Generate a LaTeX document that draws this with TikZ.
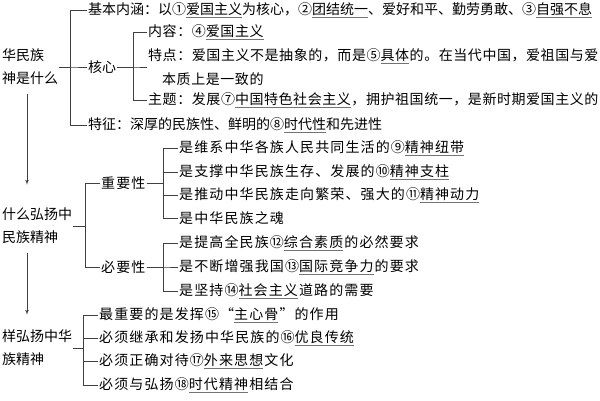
\documentclass[tikz,border=0pt]{standalone}
\usepackage{fontspec}
\newfontfamily\cjk{Noto Sans CJK SC}
\newfontfamily\cjkwide[LetterSpace=8]{Noto Sans CJK SC}
\newfontfamily\cjkmid[LetterSpace=4]{Noto Sans CJK SC}
\usetikzlibrary{arrows, positioning}
\newcommand{\ans}[1]{\rlap{\color{black!55}\underline{\phantom{#1}}}#1}

\begin{document}
\begin{tikzpicture}[x=1pt, y=-1pt,
            % Styles
            item/.style={anchor=west, inner sep=1pt, font=\cjk\fontsize{14pt}{23pt}\selectfont},
            mid/.style={item, font=\cjkmid\fontsize{14pt}{24pt}\selectfont},
            wide/.style={item, font=\cjkwide\fontsize{14pt}{23pt}\selectfont},
            root/.style={item, align=left},
            lnk/.style={draw=black!75, line width=0.7pt},
            flow/.style={draw=black!75, line width=0.7pt, -latex'}
        ]
        \useasboundingbox (0,0) rectangle (600,400);

        % Junction columns
        \coordinate (j1) at (70,0);
        \coordinate (j2) at (133,0);
        \coordinate (j3) at (85,0);
        \coordinate (j4) at (163,0);
        \coordinate (j5) at (83,0);
        \coordinate (ax) at (27,0);

        % What it is
        \node [root] (what) at (1,67) {华民族\\神是什么};
        \node [item] (basic) at (87,10) {基本内涵：以①\ans{爱国主义}为核心，②\ans{团结统一}、爱好和平、勤劳勇敢、③\ans{自强不息}};
        \node [item] (core) at (87,67) {核心};
        \node [item] (feat) at (87,125) {特征：深厚的民族性、鲜明的⑧\ans{时代性}和先进性};
        \node [mid] (cont) at (147,32) {内容：④\ans{爱国主义}};
        \node [mid, align=left] (trait) at (147,67) {特点：爱国主义不是抽象的，而是⑤\ans{具体}的。在当代中国，爱祖国与爱\\\hspace{1em}本质上是一致的};
        \node [mid] (theme) at (147,100) {主题：发展⑦\ans{中国特色社会主义}，拥护祖国统一，是新时期爱国主义的};

        % Why to carry it forward
        \node [root] (why) at (1,226) {什么弘扬中\\民族精神};
        \node [wide] (imp) at (100,183) {重要性};
        \node [wide] (nec) at (100,267) {必要性};
        \node [wide] (i1) at (178,148) {是维系中华各族人民共同生活的⑨\ans{精神纽带}};
        \node [wide] (i2) at (178,172) {是支撑中华民族生存、发展的⑩\ans{精神支柱}};
        \node [wide] (i3) at (178,195) {是推动中华民族走向繁荣、强大的⑪\ans{精神动力}};
        \node [wide] (i4) at (178,218) {是中华民族之魂};
        \node [wide] (n1) at (178,243) {是提高全民族⑫\ans{综合素质}的必然要求};
        \node [wide] (n2) at (178,267) {是不断增强我国⑬\ans{国际竞争力}的要求};
        \node [wide] (n3) at (178,291) {是坚持⑭\ans{社会主义}道路的需要};

        % How to carry it forward
        \node [root] (how) at (1,348) {样弘扬中华\\族精神};
        \node [wide] (w1) at (98,315) {最重要的是发挥⑮“\ans{主心骨}”的作用};
        \node [wide] (w2) at (98,338) {必须继承和发扬中华民族的⑯\ans{优良传统}};
        \node [wide] (w3) at (98,361) {必须正确对待⑰\ans{外来思想}文化};
        \node [wide] (w4) at (98,385) {必须与弘扬⑱\ans{时代精神}相结合};

        % Brackets
        \foreach \c in {basic, core, feat}
            \draw [lnk] (what.east) -- (what.east -| j1) |- (\c.west);
        \foreach \c in {cont, trait, theme}
            \draw [lnk] (core.east) -- (core.east -| j2) |- (\c.west);
        \foreach \c in {imp, nec}
            \draw [lnk] (why.east) -- (why.east -| j3) |- (\c.west);
        \foreach \c in {i1, i2, i3, i4}
            \draw [lnk] (imp.east) -- (imp.east -| j4) |- (\c.west);
        \foreach \c in {n1, n2, n3}
            \draw [lnk] (nec.east) -- (nec.east -| j4) |- (\c.west);
        \foreach \c in {w1, w2, w3, w4}
            \draw [lnk] (how.east) -- (how.east -| j5) |- (\c.west);

        % Flow
        \draw [flow, shorten <=8pt, shorten >=22pt] (what.south -| ax) -- (why.north -| ax);
        \draw [flow, shorten <=8pt, shorten >=14pt] (why.south -| ax) -- (how.north -| ax);

    \end{tikzpicture}
\end{document}
